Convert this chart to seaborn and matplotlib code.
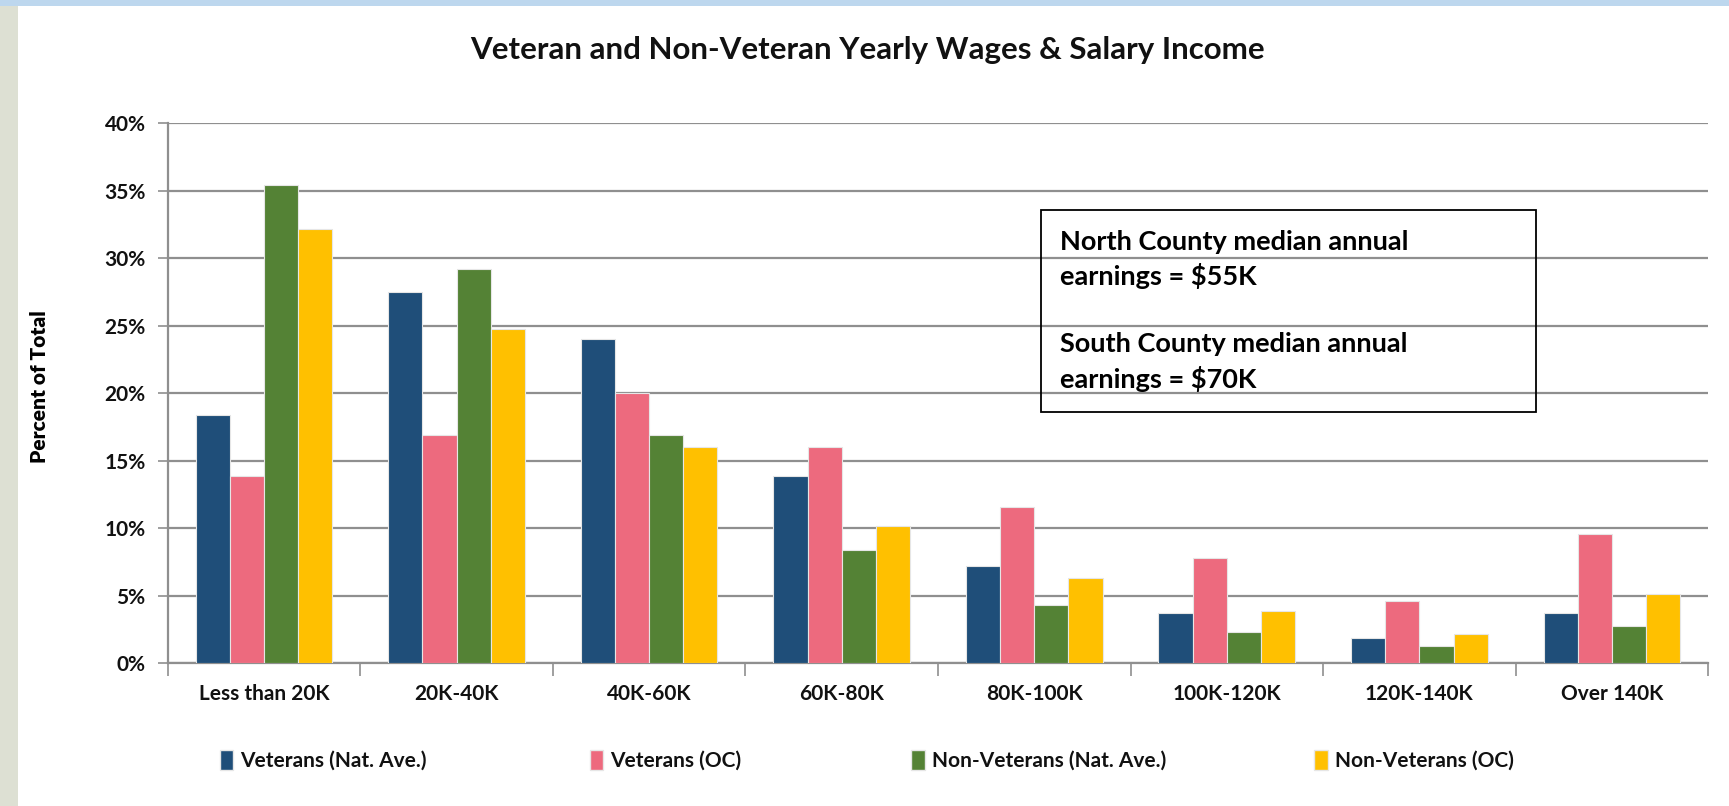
import matplotlib
matplotlib.use("Agg")
import matplotlib.pyplot as plt
import seaborn as sns
import pandas as pd
from matplotlib.patches import Rectangle, Patch
from matplotlib.ticker import FixedLocator, FuncFormatter

categories = ["Less than 20K", "20K-40K", "40K-60K", "60K-80K",
              "80K-100K", "100K-120K", "120K-140K", "Over 140K"]
series_names = ["Veterans (Nat. Ave.)", "Veterans (OC)",
                "Non-Veterans (Nat. Ave.)", "Non-Veterans (OC)"]
vet_nat = [18.4, 27.5, 24.0, 13.9, 7.2, 3.7, 1.9, 3.7]
vet_oc = [13.9, 16.9, 20.0, 16.0, 11.6, 7.8, 4.6, 9.6]
nonvet_nat = [35.4, 29.2, 16.9, 8.4, 4.3, 2.3, 1.3, 2.8]
nonvet_oc = [32.2, 24.8, 16.0, 10.2, 6.3, 3.9, 2.2, 5.1]
y_ticks = [0, 5, 10, 15, 20, 25, 30, 35, 40]
title = "Veteran and Non-Veteran Yearly Wages & Salary Income"
ylabel = "Percent of Total"
note_lines = ["North County median annual", "earnings = $55K", "",
              "South County median annual", "earnings = $70K"]

colors = ["#1F4E79", "#ED6A7E", "#548235", "#FFC000"]

rows = []
for name, vals in zip(series_names, [vet_nat, vet_oc, nonvet_nat, nonvet_oc]):
    for c, v in zip(categories, vals):
        rows.append({"category": c, "series": name, "value": v})
df = pd.DataFrame(rows)

sns.set_theme(style="white")
plt.rcParams["font.family"] = ["Lato", "DejaVu Sans"]

fig = plt.figure(figsize=(17.29, 8.06), dpi=100)
fig.patch.set_facecolor("white")
ax = fig.add_axes([0.097, 0.177, 0.891, 0.67])

sns.barplot(data=df, x="category", y="value", hue="series", order=categories,
            hue_order=series_names, palette=colors, saturation=1, width=0.71,
            edgecolor="#e6e6e6", linewidth=0.8, ax=ax, legend=False, zorder=3)

ax.set_ylim(0, 40)
ax.set_xlim(-0.5, len(categories) - 0.5)
ax.yaxis.set_major_locator(FixedLocator(y_ticks))
ax.yaxis.set_major_formatter(FuncFormatter(lambda v, p: f"{int(v)}%"))
ax.grid(axis="y", color="#8f8f8f", linewidth=1.6, zorder=0)
ax.set_axisbelow(True)

# boundary ticks (major) and centered labels (minor)
ax.set_xticks([i - 0.5 for i in range(len(categories) + 1)])
ax.set_xticklabels([])
ax.set_xticks(range(len(categories)), minor=True)
ax.set_xticklabels(categories, minor=True, fontsize=15, fontweight="bold",
                   color="#111111")
ax.tick_params(axis="x", which="major", length=9, width=1.2, color="#8f8f8f",
               direction="out", bottom=True)
ax.tick_params(axis="x", which="minor", length=0, pad=15)
ax.tick_params(axis="y", length=7, width=1.2, color="#8f8f8f", direction="out",
               left=True, pad=9)
for lab in ax.get_yticklabels():
    lab.set_fontsize(15)
    lab.set_fontweight("bold")
    lab.set_color("#111111")

for s in ["top", "right"]:
    ax.spines[s].set_visible(False)
for s in ["left", "bottom"]:
    ax.spines[s].set_color("#8f8f8f")
    ax.spines[s].set_linewidth(1.6)

ax.set_xlabel("")
ax.set_ylabel("")
fig.text(0.023, 0.52, ylabel, rotation=90, ha="center", va="center",
         fontsize=15, fontweight="heavy", color="#000000")

fig.text(0.502, 0.938, title, ha="center", va="center", fontsize=22.5,
         fontweight="bold", color="#111111")

# note box
ax.add_patch(Rectangle((0.567, 0.465), 0.321, 0.375, transform=ax.transAxes,
                       fill=False, edgecolor="black", linewidth=1.3, zorder=5))
y0 = 0.781
for i, line in enumerate(note_lines):
    ax.text(0.579, y0 - i * 0.0635, line, transform=ax.transAxes, fontsize=19.5,
            fontweight="bold", ha="left", va="center", color="black", zorder=6)

# legend: one entry per slot along the bottom
legend_x = [0.127, 0.341, 0.527, 0.760]
for c, name, lx in zip(colors, series_names, legend_x):
    leg = fig.legend([Patch(facecolor=c, edgecolor="#e6e6e6")], [name],
                     loc="center left", bbox_to_anchor=(lx, 0.057),
                     frameon=False, handlelength=0.65, handleheight=1.1,
                     handletextpad=0.35, borderpad=0, borderaxespad=0,
                     prop={"weight": "bold", "size": 15})
    for t in leg.get_texts():
        t.set_color("#111111")

# slide decorations
fig.patches.append(Rectangle((0, 0), 0.0105, 1, transform=fig.transFigure,
                             facecolor="#dde0d3", edgecolor="none", zorder=0))
fig.patches.append(Rectangle((0, 0.993), 1, 0.007, transform=fig.transFigure,
                             facecolor="#bdd7ee", edgecolor="none", zorder=0))

fig.savefig("out.png", dpi=100, facecolor="white")
